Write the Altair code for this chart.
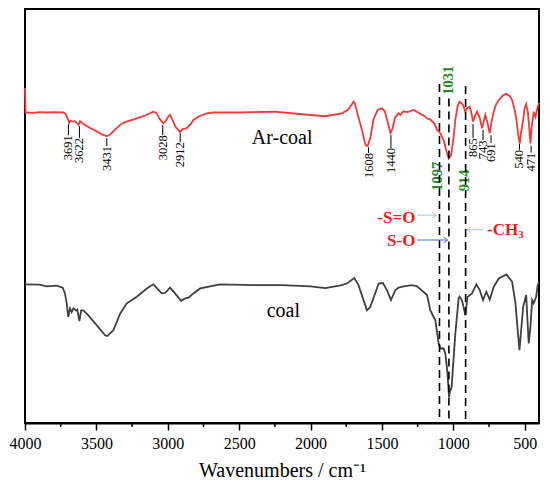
import altair as alt
import pandas as pd

SERIF = "Liberation Serif"

# ---- spectra: (wavenumber cm-1, transmittance a.u.) ----
ar_coal = [
    (4000, 80.9), (3996, 75.0), (3990, 75.0), (3940, 74.9), (3900, 75.1), (3850, 75.0),
    (3800, 75.1), (3730, 75.0), (3715, 74.6), (3700, 73.4), (3690, 72.5), (3680, 73.0),
    (3665, 72.8), (3650, 72.9), (3635, 72.4), (3625, 72.0), (3615, 72.9), (3603, 72.6),
    (3580, 72.0), (3540, 71.2), (3500, 70.5), (3460, 69.7), (3432, 69.3), (3410, 69.5),
    (3380, 70.5), (3334, 72.0), (3300, 72.7), (3217, 73.6), (3150, 74.4), (3101, 75.2),
    (3080, 74.9), (3055, 73.4), (3031, 72.4), (3015, 72.9), (2995, 74.1), (2984, 74.4),
    (2970, 73.4), (2945, 71.5), (2914, 70.3), (2895, 71.0), (2867, 71.2), (2840, 72.2),
    (2820, 73.2), (2780, 74.1), (2727, 74.8), (2680, 75.0), (2633, 75.0), (2500, 75.0),
    (2400, 75.1), (2248, 75.2), (2100, 74.7), (2000, 74.4), (1898, 74.1), (1781, 74.8),
    (1740, 75.6), (1710, 77.0), (1700, 77.6), (1690, 77.3), (1670, 74.6), (1640, 70.8),
    (1615, 67.1), (1600, 66.9), (1580, 69.1), (1560, 73.2), (1530, 75.6), (1500, 76.0),
    (1480, 75.3), (1460, 72.7), (1440, 70.0), (1425, 71.2), (1410, 73.7), (1384, 74.8),
    (1370, 74.4), (1350, 75.3), (1320, 75.1), (1279, 75.6), (1240, 74.9), (1200, 74.1),
    (1185, 73.6), (1161, 73.3), (1130, 72.2), (1114, 70.8), (1091, 70.0), (1068, 68.3),
    (1050, 65.9), (1033, 63.9), (1020, 64.5), (1016, 64.7), (1000, 68.3), (986, 73.2),
    (970, 76.6), (956, 77.6), (945, 77.3), (932, 76.8), (916, 75.2), (904, 76.0),
    (886, 76.4), (875, 75.1), (862, 72.8), (850, 74.1), (834, 75.2), (815, 73.7),
    (799, 71.2), (785, 73.2), (776, 74.4), (760, 72.4), (745, 70.0), (730, 73.2),
    (717, 75.2), (700, 77.0), (682, 78.0), (650, 79.2), (628, 79.5), (605, 79.0),
    (588, 78.0), (570, 75.6), (558, 73.2), (545, 69.5), (535, 67.5), (525, 70.3),
    (511, 73.2), (500, 76.1), (490, 77.0), (478, 75.1), (470, 72.0), (460, 67.5),
    (452, 71.2), (437, 75.2), (425, 74.0), (409, 76.4), (400, 77.3),
]

coal = [
    (4000, 33.5), (3900, 33.4), (3848, 33.0), (3778, 33.2), (3736, 32.7), (3720, 31.3),
    (3708, 28.9), (3697, 25.6), (3685, 27.7), (3673, 26.8), (3661, 27.7), (3643, 27.2),
    (3634, 27.4), (3619, 24.6), (3607, 27.2), (3591, 27.2), (3556, 26.0), (3497, 23.6),
    (3439, 21.2), (3423, 21.0), (3381, 22.4), (3334, 26.4), (3287, 28.9), (3217, 30.5),
    (3147, 32.5), (3101, 33.5), (3042, 31.3), (3019, 31.4), (2984, 32.7), (2949, 31.3),
    (2907, 29.5), (2878, 30.1), (2855, 30.3), (2820, 31.3), (2773, 32.5), (2633, 33.5),
    (2400, 33.3), (2200, 33.3), (2000, 33.0), (1897, 32.6), (1780, 33.3), (1740, 33.8),
    (1694, 35.0), (1664, 33.3), (1605, 27.2), (1582, 28.0), (1523, 33.7), (1493, 33.8),
    (1465, 32.1), (1437, 29.7), (1406, 32.1), (1383, 32.7), (1348, 33.0), (1289, 33.3),
    (1254, 33.0), (1184, 30.9), (1161, 27.2), (1126, 24.8), (1103, 19.2), (1091, 18.0),
    (1068, 18.0), (1056, 16.8), (1045, 13.5), (1036, 9.5), (1030, 6.3), (1024, 7.5),
    (1012, 8.7), (986, 21.6), (963, 30.1), (956, 30.5), (940, 29.7), (928, 28.0),
    (916, 26.0), (900, 30.5), (869, 31.3), (839, 33.5), (815, 32.1), (792, 29.7),
    (769, 31.7), (745, 29.8), (717, 32.9), (682, 34.9), (628, 35.9), (588, 34.1),
    (565, 28.9), (537, 17.6), (511, 28.0), (490, 30.9), (472, 19.2), (460, 23.2),
    (448, 29.7), (437, 28.9), (420, 30.5), (409, 33.3), (400, 34.0),
]

series_names = ["Ar-coal", "coal"]
series_colors = ["#f23a3a", "#404040"]

# ---- peak annotations ----
ann_labels = ["3691", "3622", "3431", "3028", "2912", "1608", "1440", "865", "743", "691", "540", "471"]
ann_pos = [3696, 3619, 3427, 3035, 2913, 1594, 1437, 862, 792, 736, 537, 455]
ann_tick_top = [72.2, 71.7, 68.8, 72.0, 70.0, 66.6, 69.5, 72.2, 70.8, 69.5, 67.4, 66.9]
ann_label_top = [69.5, 68.8, 66.9, 69.5, 67.8, 65.2, 66.4, 68.8, 68.3, 67.6, 66.0, 65.3]
ann_label_mid = [66.5, 65.8, 63.9, 66.5, 64.8, 62.2, 63.4, 66.5, 66.0, 65.3, 63.7, 63.0]

green_labels = ["1031", "1097", "914"]
green_pos = [1033, 1110, 920]
green_y = [82.8, 59.6, 58.6]

dash_pos = [1097, 1031, 914]
dash_top = [81.9, 78.4, 81.4]

name_labels = ["Ar-coal", "coal"]
name_pos = [2199, 2191]
name_y = [67.4, 25.6]

bond_right_labels = ["-S=O", "S-O"]
bond_right_pos = [1266, 1266]
bond_right_y = [48.3, 42.8]
ch_label = ["-CH"]
ch_pos = [764]
ch_y = [45.4]
ch_sub = ["3"]
ch_sub_pos = [545]
ch_sub_y = [44.6]

arrow_from = [1254, 1254, 790]
arrow_to = [1120, 1040, 904]
arrow_y = [50.2, 44.2, 46.7]
arrow_angle = [0, 0, 180]
arrow_colors = ["#a9bfe9", "#4f74c8", "#a9bfe9"]

major_ticks = [4000, 3500, 3000, 2500, 2000, 1500, 1000, 500]
minor_ticks = [3750, 3250, 2750, 2250, 1750, 1250, 750]

# ---- tables ----
rows = []
for name, pts in zip(series_names, [ar_coal, coal]):
    for w, t in pts:
        rows.append({"wn": w, "t": t, "series": name})
spec_df = pd.DataFrame(rows)

ann_df = pd.DataFrame({"wn": ann_pos, "t": ann_tick_top, "t2": ann_label_top,
                       "tm": ann_label_mid, "label": ann_labels})
green_df = pd.DataFrame({"wn": green_pos, "t": green_y, "label": green_labels})
dash_df = pd.DataFrame({"wn": dash_pos, "t": dash_top, "t2": [0] * len(dash_pos)})
name_df = pd.DataFrame({"wn": name_pos, "t": name_y, "label": name_labels})
bond_r_df = pd.DataFrame({"wn": bond_right_pos, "t": bond_right_y, "label": bond_right_labels})
ch_df = pd.DataFrame({"wn": ch_pos, "t": ch_y, "label": ch_label})
ch_sub_df = pd.DataFrame({"wn": ch_sub_pos, "t": ch_sub_y, "label": ch_sub})
arrow_df = pd.DataFrame({"wn": arrow_from, "wn2": arrow_to, "t": arrow_y,
                         "ang": arrow_angle, "col": arrow_colors})
arrow_head_df = pd.DataFrame({"wn": arrow_to, "t": arrow_y, "ang": arrow_angle, "col": arrow_colors})
minor_df = pd.DataFrame({"wn": minor_ticks})

W, H = 514, 414

xscale = alt.Scale(domain=[4000, 400], nice=False, zero=False)
xaxis = alt.Axis(values=major_ticks, format="d", tickSize=7, tickWidth=1.5, tickColor="black",
                 domainColor="black", domainWidth=2, labelFont=SERIF, labelFontSize=16,
                 labelColor="black", labelPadding=5, labelFlush=False, grid=False,
                 title="Wavenumbers / cm⁻¹", titleFont=SERIF, titleFontSize=20,
                 titleFontWeight="normal", titleColor="black", titlePadding=9)
X = alt.X("wn:Q", scale=xscale, axis=xaxis)
yscale = alt.Scale(domain=[0, 100], nice=False, zero=False)
Y = alt.Y("t:Q", scale=yscale, axis=None)

lines = alt.Chart(spec_df).mark_line(strokeWidth=1.8, interpolate="linear").encode(
    x=X, y=Y,
    color=alt.Color("series:N", scale=alt.Scale(domain=series_names, range=series_colors), legend=None),
    detail="series:N",
)

ann_ticks = alt.Chart(ann_df).mark_rule(color="black", strokeWidth=1).encode(
    x=X, y=Y, y2=alt.Y2("t2:Q"))
ann_text = alt.Chart(ann_df).mark_text(angle=270, align="center", baseline="middle",
                                        font=SERIF, fontSize=12.5, color="black").encode(
    x=X, y=alt.Y("tm:Q", scale=yscale, axis=None), text="label:N")

green_text = alt.Chart(green_df).mark_text(angle=270, align="center", baseline="middle",
                                            font=SERIF, fontSize=14.5, fontWeight="bold",
                                            color="#1f8a26").encode(x=X, y=Y, text="label:N")

dashes = alt.Chart(dash_df).mark_rule(color="black", strokeWidth=1.6, strokeDash=[8, 5]).encode(
    x=X, y=Y, y2=alt.Y2("t2:Q"))

names = alt.Chart(name_df).mark_text(align="center", baseline="alphabetic", font=SERIF,
                                      fontSize=20, color="black").encode(x=X, y=Y, text="label:N")

bond_r = alt.Chart(bond_r_df).mark_text(align="right", baseline="alphabetic", font=SERIF,
                                         fontSize=17, fontWeight="bold", color="#ee1c1c").encode(
    x=X, y=Y, text="label:N")
ch = alt.Chart(ch_df).mark_text(align="left", baseline="alphabetic", font=SERIF,
                                 fontSize=17, fontWeight="bold", color="#ee1c1c").encode(
    x=X, y=Y, text="label:N")
ch_s = alt.Chart(ch_sub_df).mark_text(align="left", baseline="alphabetic", font=SERIF,
                                       fontSize=11, fontWeight="bold", color="#ee1c1c").encode(
    x=X, y=Y, text="label:N")

arrows = alt.Chart(arrow_df).mark_rule(strokeWidth=1).encode(
    x=X, x2=alt.X2("wn2:Q"), y=Y, color=alt.Color("col:N", scale=None))
heads = alt.Chart(arrow_head_df).mark_point(shape="M-1,-0.7L0,0L-1,0.7", filled=False,
                                             size=70, strokeWidth=1, opacity=1).encode(
    x=X, y=Y, angle=alt.Angle("ang:Q", scale=None), color=alt.Color("col:N", scale=None))

minor = alt.Chart(minor_df).mark_rule(color="black", strokeWidth=1.5).encode(
    x=X, y=alt.value(H), y2=alt.value(H + 4))

chart = alt.layer(
    lines, ann_ticks, ann_text, green_text, dashes, names, bond_r, ch, ch_s, arrows, heads, minor
).properties(
    width=W, height=H,
    background="white",
    autosize=alt.AutoSizeParams(type="none"),
    padding={"left": 17, "top": 1, "right": 3, "bottom": 62},
).configure_view(
    stroke="black", strokeWidth=2
)

chart.save("out.html", embed_options={"renderer": "svg", "actions": False})
